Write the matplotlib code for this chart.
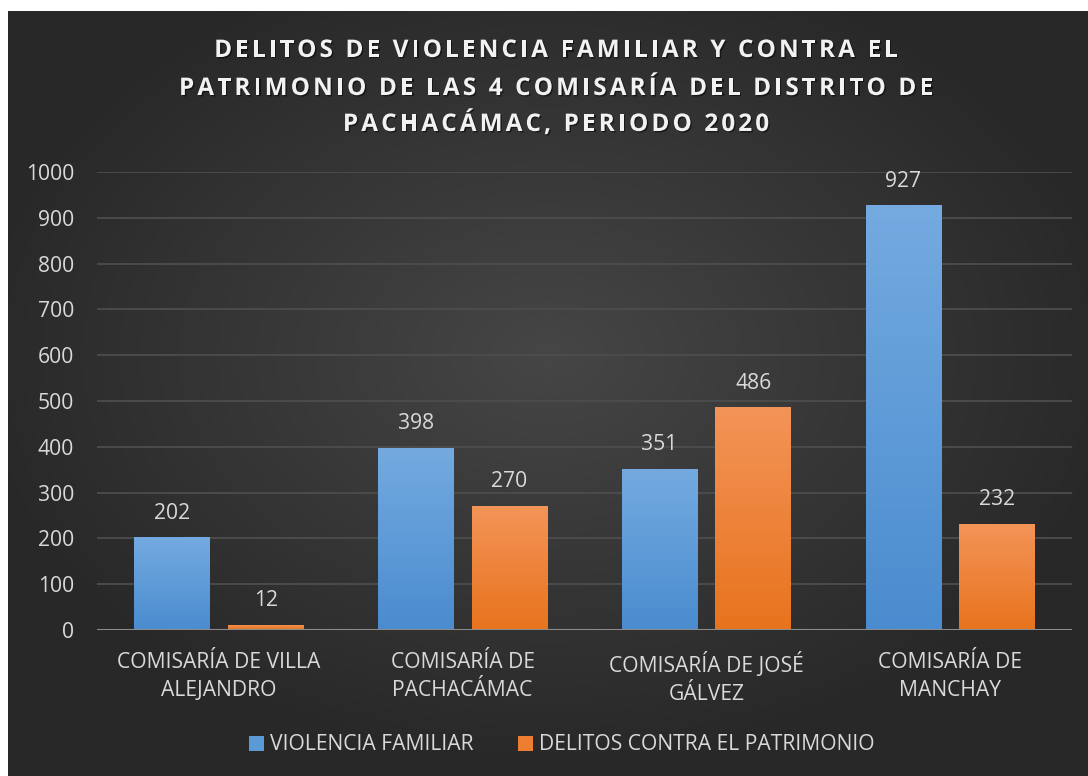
import numpy as np
import matplotlib
matplotlib.use("Agg")
import matplotlib.pyplot as plt
from matplotlib import font_manager
from matplotlib.ft2font import FT2Font
from matplotlib.patches import Patch
import matplotlib.patheffects as pe

# ---------------- data ----------------
categories = ["COMISARÍA DE VILLA\nALEJANDRO", "COMISARÍA DE\nPACHACÁMAC",
              "COMISARÍA DE JOSÉ\nGÁLVEZ", "COMISARÍA DE\nMANCHAY"]
violencia = [202, 398, 351, 927]
patrimonio = [12, 270, 486, 232]
series_names = ["VIOLENCIA FAMILIAR", "DELITOS CONTRA EL PATRIMONIO"]
yticks = [0, 100, 200, 300, 400, 500, 600, 700, 800, 900, 1000]
title_lines = ["DELITOS DE VIOLENCIA FAMILIAR Y CONTRA EL",
               "PATRIMONIO DE LAS 4 COMISARÍA DEL DISTRITO DE",
               "PACHACÁMAC, PERIODO 2020"]

FONT = "Open Sans"
TXT = "#d9d9d9"
FS = 15.2
W, H, DPI = 1088, 776, 100

fig = plt.figure(figsize=(W / DPI, H / DPI), dpi=DPI, facecolor="white")

# ---------------- background panel (radial gradient) ----------------
px0, py0 = 8, 11
bg = fig.add_axes([px0 / W, 0, 1 - px0 / W, 1 - py0 / H])
bg.set_axis_off()
yy, xx = np.mgrid[0:1:400j, 0:1:560j]
r = np.sqrt(((xx - 0.5) / 0.75) ** 2 + ((yy - 0.55) / 0.75) ** 2)
r = np.clip(r / 0.72, 0, 1)
c_center = np.array([0x46, 0x46, 0x46]) / 255
c_edge = np.array([0x28, 0x28, 0x28]) / 255
img = c_center[None, None, :] * (1 - r[..., None]) + c_edge[None, None, :] * r[..., None]
bg.imshow(img, extent=[0, 1, 0, 1], aspect="auto", origin="lower", interpolation="bilinear")
bg.set_xlim(0, 1)
bg.set_ylim(0, 1)

# ---------------- main axes ----------------
ax_l, ax_r = 97 / W, 1072 / W
ax_b, ax_t = (H - 630) / H, (H - 172) / H
ax = fig.add_axes([ax_l, ax_b, ax_r - ax_l, ax_t - ax_b])
ax.patch.set_alpha(0)
for s in ax.spines.values():
    s.set_visible(False)

x = np.arange(len(categories))
bw = 0.31
off = 0.192
b1 = ax.bar(x - off, violencia, bw, color="#5b9bd5", zorder=3)
b2 = ax.bar(x + off, patrimonio, bw, color="#ed7d31", zorder=3)


def grad_fill(bars, top, bottom):
    g = np.linspace(0, 1, 256)[:, None]
    top = np.array(matplotlib.colors.to_rgb(top))
    bottom = np.array(matplotlib.colors.to_rgb(bottom))
    cols = bottom[None, None, :] * (1 - g[..., None]) + top[None, None, :] * g[..., None]
    cols = np.repeat(cols, 2, axis=1)
    for b in bars:
        bx, by = b.get_x(), b.get_y()
        bwid, bh = b.get_width(), b.get_height()
        b.set_facecolor("none")
        im = ax.imshow(cols, extent=[bx, bx + bwid, by, by + bh], origin="lower",
                       aspect="auto", zorder=3, interpolation="bilinear")
        im.set_clip_path(b)


grad_fill(b1, "#74aae0", "#4a8ccf")
grad_fill(b2, "#f39458", "#e8731d")

ax.set_xlim(-0.5, len(categories) - 0.5)
ax.set_ylim(0, 1000)
ax.set_yticks(yticks)
ax.set_yticklabels([str(t) for t in yticks])
ax.set_xticks(x)
ax.set_xticklabels(categories, linespacing=1.4)
ax.tick_params(axis="y", length=0, pad=16.5, labelsize=FS, labelcolor=TXT)
ax.tick_params(axis="x", length=0, pad=16, labelsize=FS, labelcolor=TXT)
for lab in ax.get_xticklabels() + ax.get_yticklabels():
    lab.set_fontfamily(FONT)
ax.grid(axis="y", color="#4d4d4d", linewidth=1.3, zorder=0)
ax.set_axisbelow(True)
ax.axhline(0, color="#8c8c8c", linewidth=2.2, zorder=4)

for bars, vals in ((b1, violencia), (b2, patrimonio)):
    for b, v in zip(bars, vals):
        ax.annotate(str(v), (b.get_x() + b.get_width() / 2, v), xytext=(0, 10),
                    textcoords="offset points", ha="center", va="bottom",
                    fontsize=FS, color=TXT, fontfamily=FONT)

# ---------------- legend ----------------
handles = [Patch(facecolor="#5b9bd5", edgecolor="none"),
           Patch(facecolor="#ed7d31", edgecolor="none")]
leg = fig.legend(handles, series_names, loc="center", bbox_to_anchor=(562 / W, (H - 745) / H),
                 ncol=2, frameon=False, handlelength=0.7, handleheight=0.7,
                 handletextpad=0.3, columnspacing=2.1,
                 prop={"family": FONT, "size": FS})
for t in leg.get_texts():
    t.set_color(TXT)

# ---------------- title with letter spacing ----------------
tprop = font_manager.FontProperties(family=FONT, weight="bold")
tpath = font_manager.findfont(tprop)
tsize = 17.5
ft = FT2Font(tpath)
ft.set_size(tsize, DPI)


def adv(c):
    g = ft.load_char(ord(c))
    return g.linearHoriAdvance / 65536.0  # pixels


line_targets = [(218, 897, 48), (178, 932, 86), (340, 773, 122)]
spacings = []
for line, (xa, xb, yc) in zip(title_lines, line_targets):
    adv_sum = sum(adv(c) for c in line)
    spacings.append(((xb - xa) - adv_sum) / (len(line) - 1))
sp = float(np.median(spacings))
for line, (xa, xb, yc) in zip(title_lines, line_targets):
    widths = [adv(c) for c in line]
    total = sum(widths) + sp * (len(line) - 1)
    cx = 556
    xpos = cx - total / 2
    for c, wdt in zip(line, widths):
        if c != " ":
            fig.text(xpos / W, 1 - yc / H, c, fontsize=tsize, fontweight="bold",
                     fontfamily=FONT, color="#f2f2f2", ha="left", va="center_baseline",
                     path_effects=[pe.withSimplePatchShadow(offset=(1, -1), shadow_rgbFace="black", alpha=0.5)])
        xpos += wdt + sp

fig.savefig("out.png", dpi=DPI, facecolor="white")
